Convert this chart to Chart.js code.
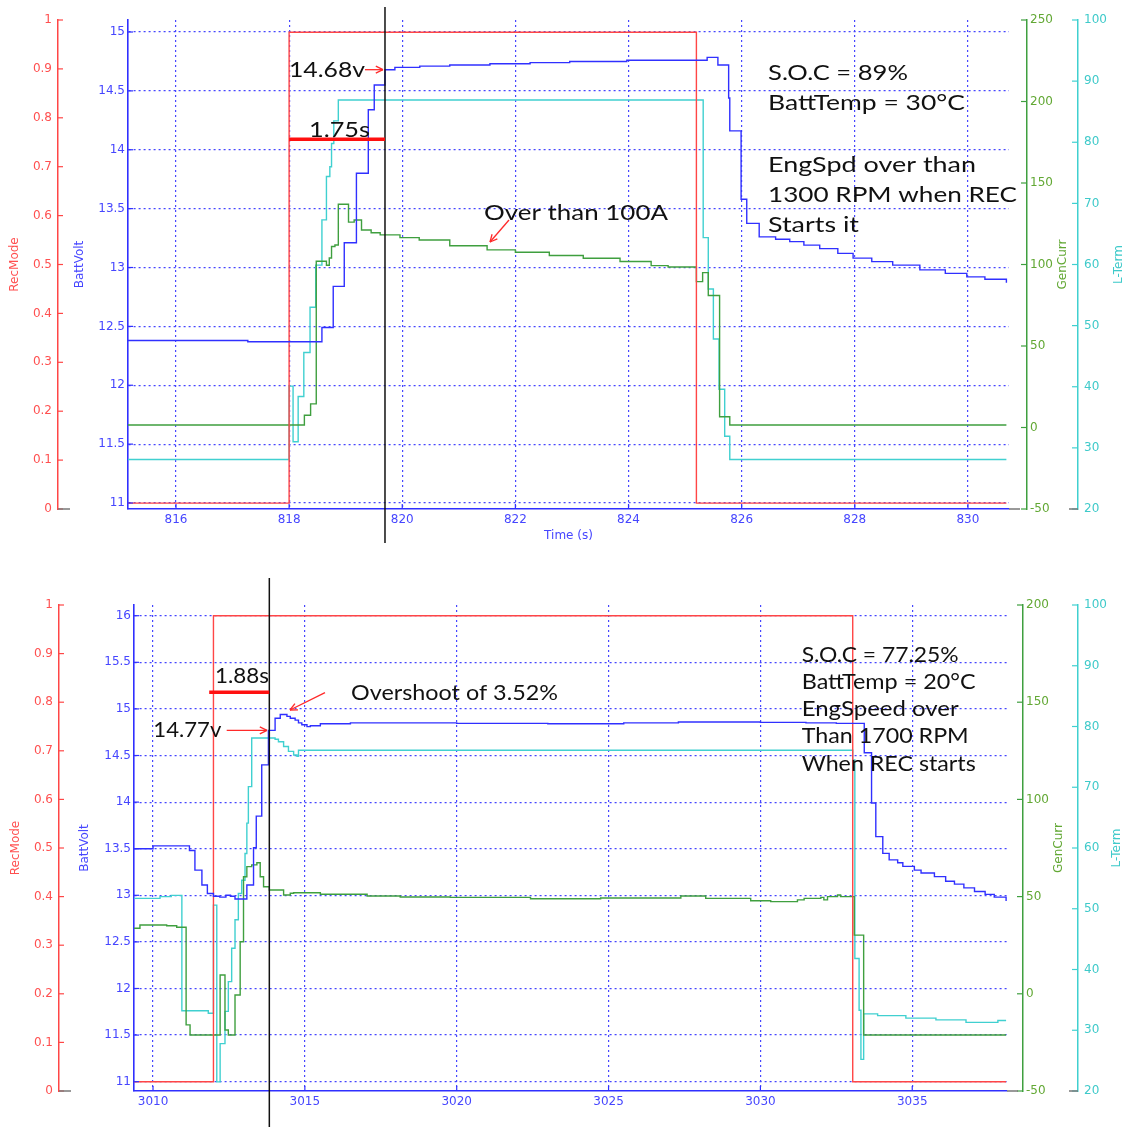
<!DOCTYPE html>
<html>
<head>
<meta charset="utf-8">
<script src="https://cdn.jsdelivr.net/npm/chart.js@4.4.1/dist/chart.umd.min.js"></script>
<style>
  body { margin: 0; background: #fff; }
  .panel { position: absolute; left: 0; }
  canvas { display: block; }
</style>
</head>
<body>
<div class="panel" style="top:0px"><canvas id="topChart" width="1130" height="552"></canvas></div>
<div class="panel" style="top:575px"><canvas id="bottomChart" width="1130" height="552"></canvas></div>
<script>
// Step samples as [time (s), value]; each value holds until the next sample.

// REC event around 818 s
const topRecMode = [[815.15, 0.012], [818.0, 0.975], [825.2, 0.012], [830.68, 0.012]];
const topBattVolt = [
  [815.15, 12.38], [817.27, 12.37], [818.58, 12.49], [818.78, 12.84], [818.975, 13.21],
  [819.19, 13.80], [819.40, 14.34], [819.505, 14.55], [819.695, 14.68], [819.87, 14.70],
  [820.31, 14.71], [820.84, 14.72], [821.55, 14.73], [822.26, 14.74], [822.96, 14.75],
  [823.97, 14.76], [825.39, 14.785], [825.58, 14.72], [825.77, 14.44], [825.79, 14.16],
  [825.99, 13.58], [826.09, 13.375], [826.31, 13.26], [826.6, 13.24], [826.85, 13.22],
  [827.1, 13.19], [827.38, 13.16], [827.7, 13.12], [827.97, 13.08], [828.3, 13.05],
  [828.67, 13.02], [829.15, 12.98], [829.6, 12.95], [829.98, 12.92], [830.3, 12.90], [830.68, 12.87]
];
const topGenCurr = [
  [815.15, 1.5], [818.27, 7.5], [818.38, 14.5], [818.48, 102], [818.66, 99.5], [818.71, 104],
  [818.75, 111], [818.81, 112], [818.87, 137], [819.05, 126], [819.15, 127.3], [819.28, 121.2],
  [819.45, 119.5], [819.61, 118.2], [819.96, 116.5], [820.3, 115], [820.84, 111.5], [821.5, 109],
  [822.0, 107.5], [822.6, 105.5], [823.2, 103.8], [823.85, 101.8], [824.4, 99.3], [824.7, 98.5],
  [825.2, 89.5], [825.31, 95], [825.41, 81], [825.61, 6.6], [825.79, 1.5], [830.68, 1.5]
];
const topLTerm = [
  [815.15, 28.1], [818.0, 40.1], [818.07, 31.0], [818.16, 38.4], [818.26, 45.6], [818.37, 53.0],
  [818.47, 59.9], [818.58, 67.3], [818.66, 74.4], [818.72, 76.0], [818.75, 79.8], [818.79, 83.5],
  [818.87, 86.9], [825.32, 64.4], [825.41, 56.0], [825.50, 47.8], [825.60, 39.6], [825.70, 31.9],
  [825.79, 28.1], [830.68, 28.1]
];

// REC event around 3012 s
const bottomRecMode = [[3009.374, 0.019], [3011.99, 0.978], [3033.04, 0.019], [3038.09, 0.019]];
const bottomBattVolt = [
  [3009.374, 13.50], [3010.0, 13.53], [3011.2, 13.48], [3011.38, 13.27], [3011.61, 13.11],
  [3011.79, 13.02], [3011.99, 12.99], [3012.2, 12.98], [3012.4, 13.0], [3012.55, 12.99],
  [3012.70, 12.96], [3013.09, 13.11], [3013.31, 13.51], [3013.40, 13.85], [3013.58, 14.40],
  [3013.80, 14.77], [3014.02, 14.90], [3014.19, 14.94], [3014.41, 14.92], [3014.52, 14.90],
  [3014.68, 14.88], [3014.79, 14.85], [3014.90, 14.83], [3015.07, 14.81], [3015.18, 14.82],
  [3015.51, 14.84], [3016.5, 14.85], [3020.0, 14.845], [3023.0, 14.84], [3025.5, 14.85],
  [3027.3, 14.86], [3030.0, 14.855], [3031.5, 14.85], [3032.5, 14.845], [3033.42, 14.53],
  [3033.66, 13.99], [3033.8, 13.63], [3034.03, 13.45], [3034.24, 13.38], [3034.52, 13.35],
  [3034.69, 13.31], [3035.07, 13.27], [3035.29, 13.24], [3035.73, 13.20], [3036.1, 13.15],
  [3036.39, 13.12], [3036.7, 13.08], [3037.05, 13.04], [3037.4, 13.01], [3037.70, 12.98], [3038.09, 12.94]
];
const bottomGenCurr = [
  [3009.374, 33.7], [3009.57, 35.4], [3010.45, 35.0], [3010.78, 34.2], [3011.09, -16.0],
  [3011.22, -21.2], [3012.21, 9.7], [3012.37, -18.6], [3012.48, -21.2], [3012.70, -0.6],
  [3012.87, 26.8], [3012.98, 60.2], [3013.09, 65.4], [3013.25, 66.3], [3013.42, 67.4],
  [3013.53, 60.2], [3013.64, 55.1], [3013.83, 53.4], [3014.30, 50.8], [3014.52, 51.7],
  [3014.63, 52.0], [3015.51, 51.2], [3017.05, 50.3], [3018.14, 49.8], [3019.79, 49.6],
  [3022.43, 48.9], [3024.74, 49.3], [3027.38, 50.3], [3028.20, 49.1], [3029.68, 47.9],
  [3030.34, 47.4], [3031.22, 48.3], [3031.44, 49.1], [3031.99, 49.6], [3032.09, 48.3],
  [3032.21, 50.0], [3032.54, 50.8], [3032.64, 50.0], [3033.09, 30.2], [3033.40, -21.2], [3038.09, -21.2]
];
const bottomLTerm = [
  [3009.374, 51.7], [3010.23, 52.0], [3010.6, 52.2], [3010.95, 33.2], [3011.82, 32.8],
  [3011.99, 50.6], [3012.10, 21.5], [3012.21, 27.8], [3012.37, 33.1], [3012.48, 38.0],
  [3012.59, 43.5], [3012.70, 48.2], [3012.81, 52.5], [3012.92, 54.7], [3013.03, 59.1],
  [3013.09, 64.1], [3013.14, 70.1], [3013.25, 78.1], [3014.02, 77.9], [3014.13, 77.5],
  [3014.30, 76.7], [3014.46, 75.9], [3014.63, 75.3], [3014.74, 75.1], [3014.79, 76.1],
  [3033.04, 74.5], [3033.11, 41.8], [3033.25, 33.3], [3033.31, 25.2], [3033.40, 32.7],
  [3033.86, 32.4], [3034.79, 32.0], [3035.78, 31.7], [3036.77, 31.3], [3037.82, 31.6], [3038.09, 31.6]
];

// tick values
const recModeTicks = [0, 0.1, 0.2, 0.3, 0.4, 0.5, 0.6, 0.7, 0.8, 0.9, 1];
const lTermTicks = [20, 30, 40, 50, 60, 70, 80, 90, 100];
const topTimeTicks = [816, 818, 820, 822, 824, 826, 828, 830];
const topVoltTicks = [11, 11.5, 12, 12.5, 13, 13.5, 14, 14.5, 15];
const topCurrTicks = [-50, 0, 50, 100, 150, 200, 250];
const bottomTimeTicks = [3010, 3015, 3020, 3025, 3030, 3035];
const bottomVoltTicks = [11, 11.5, 12, 12.5, 13, 13.5, 14, 14.5, 15, 15.5, 16];
const bottomCurrTicks = [-50, 0, 50, 100, 150, 200];

const RED = '#ff4646';
const BLUE = '#3030ff';
const GREEN = '#3f9f3f';
const CYAN = '#40d0d0';
const GRID = '#4646ff';
const RED_TXT = '#ff5050';
const BLUE_TXT = '#4646ff';
const GREEN_TXT = '#62a834';
const CYAN_TXT = '#3fcaca';
const AXIS_FONT = "'DejaVu Sans', sans-serif";
const NOTE_FONT = "Lato, 'Open Sans', sans-serif";

function drawSeg(ctx, x1, y1, x2, y2, color, width) {
  ctx.beginPath();
  ctx.strokeStyle = color;
  ctx.lineWidth = width;
  ctx.moveTo(x1, y1);
  ctx.lineTo(x2, y2);
  ctx.stroke();
}

function drawArrow(ctx, x1, y1, x2, y2) {
  drawSeg(ctx, x1, y1, x2, y2, '#ff2a2a', 1.3);
  const a = Math.atan2(y2 - y1, x2 - x1);
  const len = 8;
  [0.45, -0.45].forEach(d => {
    drawSeg(ctx, x2, y2, x2 - len * Math.cos(a + d), y2 - len * Math.sin(a + d), '#ff2a2a', 1.3);
  });
}

// text squeezed/stretched to the width it takes on the figure
function drawNote(ctx, n) {
  ctx.font = '22px ' + NOTE_FONT;
  ctx.fillStyle = '#111';
  ctx.textAlign = 'left';
  ctx.textBaseline = 'alphabetic';
  const sx = n.w / ctx.measureText(n.text).width;
  ctx.save();
  ctx.translate(n.x, n.y);
  ctx.scale(sx, 1);
  ctx.fillText(n.text, 0, 0);
  ctx.restore();
}

function drawTitle(ctx, text, x, y, color) {
  ctx.save();
  ctx.translate(x, y);
  ctx.rotate(-Math.PI / 2);
  ctx.font = '12px ' + AXIS_FONT;
  ctx.fillStyle = color;
  ctx.textAlign = 'center';
  ctx.textBaseline = 'middle';
  ctx.fillText(text, 0, 0);
  ctx.restore();
}

function panelDecor(p) {
  return {
    id: 'panelDecor',
    afterDraw(chart) {
      const { ctx, chartArea: area } = chart;
      const { x, yVolt, yRec, yCurr, yTerm } = chart.scales;
      ctx.save();

      // inward tick marks
      recModeTicks.forEach(v => {
        const y = yRec.getPixelForValue(v);
        drawSeg(ctx, yRec.right, y, yRec.right + 5, y, RED, 1.2);
      });
      p.voltTicks.forEach(v => {
        const y = yVolt.getPixelForValue(v);
        drawSeg(ctx, area.left, y, area.left + 5, y, BLUE, 1.2);
      });
      p.currTicks.forEach(v => {
        const y = yCurr.getPixelForValue(v);
        drawSeg(ctx, yCurr.left - 6, y, yCurr.left, y, GREEN, 1.2);
      });
      lTermTicks.forEach(v => {
        const y = yTerm.getPixelForValue(v);
        drawSeg(ctx, yTerm.left - 6, y, yTerm.left, y, CYAN, 1.2);
      });
      p.xTicks.forEach(v => {
        const px = x.getPixelForValue(v);
        drawSeg(ctx, px, area.bottom, px, area.bottom - 5, BLUE, 1.2);
      });

      // short grey baseline stubs of the secondary axes
      drawSeg(ctx, yRec.right, area.bottom, yRec.right + 12, area.bottom, '#777', 1.5);
      drawSeg(ctx, area.right, area.bottom, area.right + 11, area.bottom, '#777', 1.5);
      drawSeg(ctx, yTerm.left - 9, area.bottom, yTerm.left, area.bottom, '#777', 1.5);

      // axis titles
      const midY = (area.top + area.bottom) / 2;
      drawTitle(ctx, 'RecMode', p.titleX[0], midY, RED_TXT);
      drawTitle(ctx, 'BattVolt', p.titleX[1], midY, BLUE_TXT);
      drawTitle(ctx, 'GenCurr', p.titleX[2], midY, GREEN_TXT);
      drawTitle(ctx, 'L-Term', p.titleX[3], midY, CYAN_TXT);

      // cursor line and rise-time bar
      const cx = x.getPixelForValue(p.cursor.t);
      drawSeg(ctx, cx, p.cursor.y1, cx, p.cursor.y2, '#111', 1.5);
      const by = yVolt.getPixelForValue(p.bar.volt);
      drawSeg(ctx, x.getPixelForValue(p.bar.from), by, cx, by, '#ff1010', 3.5);

      p.arrows.forEach(a => {
        if (a.volt !== undefined) {
          const y = yVolt.getPixelForValue(a.volt);
          drawArrow(ctx, a.x1, y, a.x2, y);
        } else {
          drawArrow(ctx, a.x1, a.y1, a.x2, a.y2);
        }
      });
      p.notes.forEach(n => drawNote(ctx, n));
      ctx.restore();
    }
  };
}

function makePanel(canvasId, p) {
  const line = (label, rows, color, axis) => ({
    label,
    data: rows.map(([t, v]) => ({ x: t, y: v })),
    yAxisID: axis,
    borderColor: color,
    borderWidth: 1.4,
    stepped: true,
    pointRadius: 0,
    fill: false
  });
  const fixedTicks = list => scale => { scale.ticks = list.map(value => ({ value })); };
  const tickFont = { family: AXIS_FONT, size: 12 };
  const label = v => String(v);

  return new Chart(document.getElementById(canvasId), {
    type: 'line',
    data: {
      datasets: [
        line('BattVolt', p.volt, BLUE, 'yVolt'),
        line('RecMode', p.rec, RED, 'yRec'),
        line('GenCurr', p.curr, GREEN, 'yCurr'),
        line('L-Term', p.term, CYAN, 'yTerm')
      ]
    },
    options: {
      responsive: false,
      animation: false,
      events: [],
      layout: { padding: { top: p.padTop, left: 0, right: 0, bottom: 0 } },
      plugins: { legend: { display: false }, tooltip: { enabled: false } },
      scales: {
        x: {
          type: 'linear',
          min: p.xMin,
          max: p.xMax,
          afterBuildTicks: fixedTicks(p.xTicks),
          afterFit: s => { s.height = p.xHeight; },
          grid: { color: GRID, lineWidth: 1.2, drawTicks: false },
          border: { color: BLUE, width: 1.6, dash: [2, 3] },
          ticks: { color: BLUE_TXT, font: tickFont, padding: 4, maxRotation: 0, autoSkip: false, callback: label },
          title: { display: !!p.xTitle, text: p.xTitle || '', color: BLUE_TXT, font: tickFont, padding: { top: 1, bottom: 9 } }
        },
        yVolt: {
          position: 'left',
          weight: 0,
          min: p.voltMin,
          max: p.voltMax,
          afterBuildTicks: fixedTicks(p.voltTicks),
          afterFit: s => { s.width = p.voltW; },
          grid: { color: GRID, lineWidth: 1.2, drawTicks: false },
          border: { color: BLUE, width: 1.6, dash: [2, 3] },
          ticks: { color: BLUE_TXT, font: tickFont, padding: 3, callback: label }
        },
        yRec: {
          position: 'left',
          weight: 1,
          min: 0,
          max: 1,
          afterBuildTicks: fixedTicks(recModeTicks),
          afterFit: s => { s.width = p.recW; },
          grid: { drawOnChartArea: false, drawTicks: false },
          border: { color: RED, width: 1.5 },
          ticks: { color: RED_TXT, font: tickFont, padding: 6, callback: label }
        },
        // empty strip that keeps the GenCurr axis off the plot edge
        yGap: {
          position: 'right',
          weight: 0,
          afterFit: s => { s.width = p.gapW; },
          grid: { display: false },
          border: { display: false },
          ticks: { display: false }
        },
        yCurr: {
          position: 'right',
          weight: 1,
          min: p.currMin,
          max: p.currMax,
          afterBuildTicks: fixedTicks(p.currTicks),
          afterFit: s => { s.width = p.currW; },
          grid: { drawOnChartArea: false, drawTicks: false },
          border: { color: GREEN, width: 1.5 },
          ticks: { color: GREEN_TXT, font: tickFont, padding: 3, callback: label }
        },
        yTerm: {
          position: 'right',
          weight: 2,
          min: 20,
          max: 100,
          afterBuildTicks: fixedTicks(lTermTicks),
          afterFit: s => { s.width = p.termW; },
          grid: { drawOnChartArea: false, drawTicks: false },
          border: { color: CYAN, width: 1.5 },
          ticks: { color: CYAN_TXT, font: tickFont, padding: 6, callback: label }
        }
      }
    },
    plugins: [panelDecor(p)]
  });
}

makePanel('topChart', {
  rec: topRecMode, volt: topBattVolt, curr: topGenCurr, term: topLTerm,
  xMin: 815.152, xMax: 830.726, xTicks: topTimeTicks, xTitle: 'Time (s)',
  voltMin: 10.949, voltMax: 15.102, voltTicks: topVoltTicks,
  currMin: -50, currMax: 250, currTicks: topCurrTicks,
  padTop: 20, xHeight: 43, recW: 58, voltW: 70, gapW: 18, currW: 51, termW: 52,
  titleX: [15, 80, 1063, 1119],
  cursor: { t: 819.695, y1: 7, y2: 543 },
  bar: { from: 818.0, volt: 14.09 },
  arrows: [
    { x1: 365, x2: 383, volt: 14.68 },
    { x1: 509, y1: 220, x2: 490, y2: 242 }
  ],
  notes: [
    { text: '14.68v', x: 289, y: 77.3, w: 76 },
    { text: '1.75s', x: 309, y: 136.7, w: 61 },
    { text: 'Over than 100A', x: 484, y: 220, w: 184 },
    { text: 'S.O.C = 89%', x: 768, y: 80, w: 140 },
    { text: 'BattTemp = 30°C', x: 768, y: 110, w: 197 },
    { text: 'EngSpd over than', x: 768, y: 171.7, w: 208 },
    { text: '1300 RPM when REC', x: 768, y: 201.7, w: 249 },
    { text: 'Starts it', x: 768, y: 231.7, w: 91 }
  ]
});

makePanel('bottomChart', {
  rec: bottomRecMode, volt: bottomBattVolt, curr: bottomGenCurr, term: bottomLTerm,
  xMin: 3009.374, xMax: 3038.12, xTicks: bottomTimeTicks, xTitle: '',
  voltMin: 10.900, voltMax: 16.115, voltTicks: bottomVoltTicks,
  currMin: -50, currMax: 200, currTicks: bottomCurrTicks,
  padTop: 30, xHeight: 36, recW: 59, voltW: 75, gapW: 16, currW: 55, termW: 52,
  titleX: [16, 85, 1059, 1117],
  cursor: { t: 3013.83, y1: 3, y2: 552 },
  bar: { from: 3011.85, volt: 15.18 },
  arrows: [
    { x1: 226.7, x2: 267, volt: 14.77 },
    { x1: 325, y1: 117.7, x2: 290, y2: 135 }
  ],
  notes: [
    { text: '1.88s', x: 215, y: 107.7, w: 54 },
    { text: '14.77v', x: 153.3, y: 161.7, w: 68 },
    { text: 'Overshoot of 3.52%', x: 351, y: 125, w: 207 },
    { text: 'S.O.C = 77.25%', x: 801.7, y: 86.7, w: 157 },
    { text: 'BattTemp = 20°C', x: 801.7, y: 114, w: 174 },
    { text: 'EngSpeed over', x: 801.7, y: 141, w: 157 },
    { text: 'Than 1700 RPM', x: 801.7, y: 168.3, w: 167 },
    { text: 'When REC starts', x: 801.7, y: 195.7, w: 174 }
  ]
});
</script>
</body>
</html>
